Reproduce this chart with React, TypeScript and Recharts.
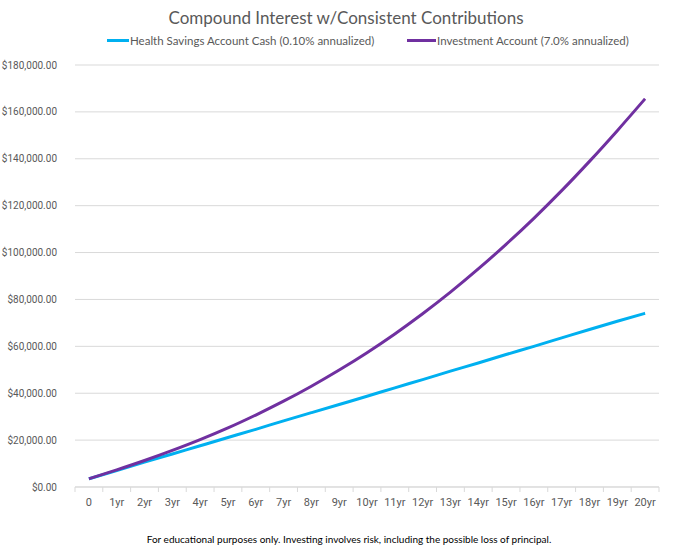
import React from "react";
import { LineChart, Line, XAxis, YAxis, CartesianGrid } from "recharts";

// categories + series
const years = ["0", "1yr", "2yr", "3yr", "4yr", "5yr", "6yr", "7yr", "8yr", "9yr", "10yr", "11yr", "12yr", "13yr", "14yr", "15yr", "16yr", "17yr", "18yr", "19yr", "20yr"];
const hsaCash = [3500, 7000, 10600, 14100, 17600, 21100, 24600, 28200, 31700, 35200, 38700, 42300, 45800, 49400, 52900, 56500, 60000, 63600, 67200, 70700, 74100];
const investment = [3500, 7300, 11300, 15600, 20200, 25200, 30700, 36600, 43000, 49900, 57300, 65300, 73900, 83100, 93000, 103500, 114600, 126400, 138900, 152000, 165600];
const yTicks = [0, 20000, 40000, 60000, 80000, 100000, 120000, 140000, 160000, 180000];

const data = years.map((yr, i) => ({ yr, hsa: hsaCash[i], inv: investment[i] }));

const FONT = "Lato, 'Open Sans', sans-serif";
const TICKFONT = "Roboto, Lato, sans-serif";
const TEXT = "#595959";
const GRID = "#D9D9D9";
const BAND = 584 / 21;

const fmtMoney = (v: number) =>
  "$" + v.toLocaleString("en-US", { minimumFractionDigits: 2, maximumFractionDigits: 2 });

const XTick = (props: any) => {
  const { x, y, payload, index } = props;
  const last = index === years.length - 1;
  return (
    <g>
      <line x1={x - BAND / 2} x2={x - BAND / 2} y1={y - 8} y2={y - 3} stroke={GRID} />
      {last && <line x1={x + BAND / 2} x2={x + BAND / 2} y1={y - 8} y2={y - 3} stroke={GRID} />}
      <text x={x} y={y + 11} textAnchor="middle" fill={TEXT} fontSize={11} fontFamily={TICKFONT}>
        {payload.value}
      </text>
    </g>
  );
};

export default function App() {
  return (
    <div style={{ position: "absolute", left: 0, top: 0, width: 686, height: 551, background: "#fff" }}>
      <div
        style={{
          position: "absolute",
          top: 7,
          left: 0,
          width: 692,
          textAlign: "center",
          fontFamily: FONT,
          fontSize: 17,
          color: TEXT,
        }}
      >
        Compound Interest w/Consistent Contributions
      </div>
      <div style={{ position: "absolute", top: 34, left: 0, width: 686, fontFamily: FONT, fontSize: 11.5, color: TEXT }}>
        <div style={{ position: "absolute", left: 107, top: 0, display: "flex", alignItems: "center", whiteSpace: "nowrap" }}>
          <span style={{ width: 22, height: 3, background: "#00B0F0", display: "inline-block", marginRight: 1 }} />
          Health Savings Account Cash (0.10% annualized)
        </div>
        <div style={{ position: "absolute", left: 407, top: 0, display: "flex", alignItems: "center", whiteSpace: "nowrap" }}>
          <span style={{ width: 29, height: 3, background: "#7030A0", display: "inline-block", marginRight: 1 }} />
          Investment Account (7.0% annualized)
        </div>
      </div>
      <LineChart width={686} height={551} data={data} margin={{ top: 65, right: 27, bottom: 34, left: 0 }}>
        <CartesianGrid vertical={false} stroke={GRID} />
        <XAxis
          dataKey="yr"
          scale="band"
          stroke={GRID}
          tickLine={false}
          tick={<XTick />}
          interval={0}
          height={30}
        />
        <YAxis
          width={75}
          domain={[0, 180000]}
          ticks={yTicks}
          tickFormatter={fmtMoney}
          axisLine={false}
          tickLine={false}
          tick={{ fill: TEXT, fontSize: 10, fontFamily: TICKFONT }}
          tickMargin={12}
        />
        <Line
          type="monotone"
          dataKey="hsa"
          name="Health Savings Account Cash (0.10% annualized)"
          stroke="#00B0F0"
          strokeWidth={3}
          dot={false}
          isAnimationActive={false}
        />
        <Line
          type="monotone"
          dataKey="inv"
          name="Investment Account (7.0% annualized)"
          stroke="#7030A0"
          strokeWidth={3}
          dot={false}
          isAnimationActive={false}
        />
      </LineChart>
      <div
        style={{
          position: "absolute",
          top: 533,
          left: 0,
          width: 698,
          textAlign: "center",
          fontFamily: FONT,
          fontSize: 10,
          color: "#000",
        }}
      >
        For educational purposes only. Investing involves risk, including the possible loss of principal.
      </div>
    </div>
  );
}
